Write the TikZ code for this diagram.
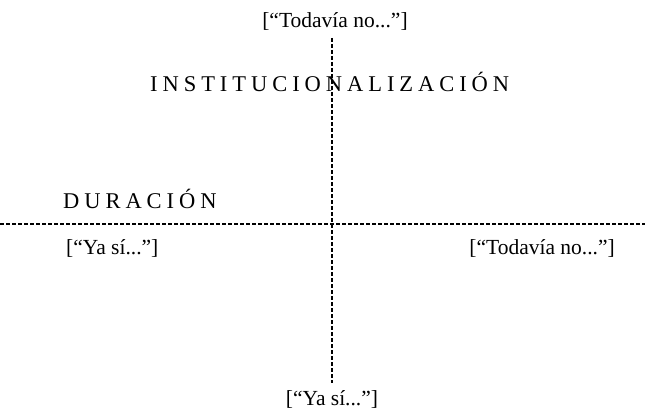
\documentclass[tikz,border=0pt]{standalone}
\usepackage{fontspec}
\setmainfont{Liberation Serif}
\begin{document}
\begin{tikzpicture}[x=1pt,y=-1pt,
  lbl/.style={inner sep=0pt, anchor=base, font=\fontsize{21.5}{24}\selectfont},
  captxt/.style={inner sep=0pt, anchor=base, font=\fontsize{22.5}{26}\selectfont\addfontfeature{LetterSpace=22}},
  axis/.style={line width=1.1pt, dash pattern=on 4pt off 2pt}]
\useasboundingbox (0,0) rectangle (645,420);
\coordinate (vt) at (332,38);
\coordinate (vb) at (332,383);
\coordinate (hl) at (0,224);
\coordinate (hr) at (645,224);
\draw[axis] (hl) -- (hr);
\draw[axis] (vt) -- (vb);
\node[lbl] (tn1) at (335,28) {[“Todavía no...”]};
\node[captxt, anchor=base west] (inst) at (150,92) {INSTITUCIONALIZACIÓN};
\node[captxt, anchor=base west] (dur) at (63,208) {DURACIÓN};
\node[lbl, anchor=base west] (ys1) at (66,254) {[“Ya sí...”]};
\node[lbl, anchor=base east] (tn2) at (615,254) {[“Todavía no...”]};
\node[lbl] (ys2) at (332,405) {[“Ya sí...”]};
\end{tikzpicture}
\end{document}
